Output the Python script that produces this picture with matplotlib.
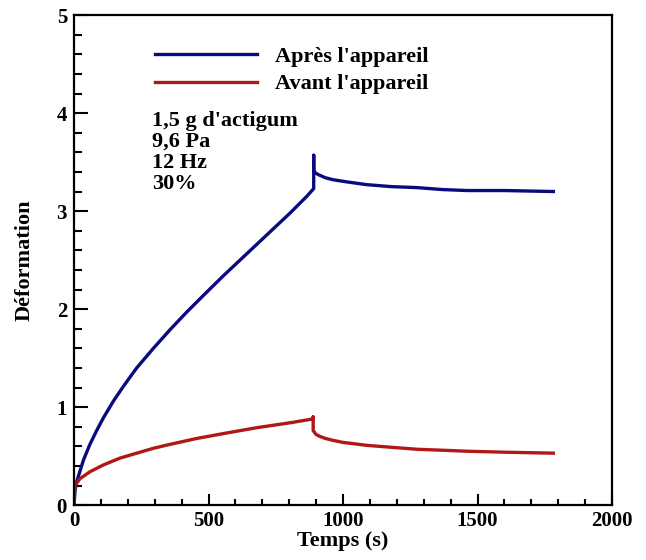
import numpy as np
import matplotlib.pyplot as plt
from matplotlib.ticker import MultipleLocator

t_apres = [0, 4, 10, 35, 59, 84, 109, 146, 183, 233, 295, 357, 419, 481, 555,
           617, 679, 741, 803, 865, 891,
           891, 891, 897, 910, 935, 964, 1010, 1088, 1180, 1274, 1370, 1460, 1600, 1782]
d_apres = [0.0, 0.16, 0.24, 0.46, 0.62, 0.76, 0.89, 1.06, 1.21, 1.40, 1.60, 1.79, 1.97, 2.14, 2.34,
           2.50, 2.66, 2.82, 2.98, 3.15, 3.23,
           3.57, 3.42, 3.39, 3.37, 3.34, 3.32, 3.30, 3.27, 3.25, 3.24, 3.22, 3.21, 3.21, 3.20]

t_avant = [0, 2, 4, 22, 59, 109, 171, 233, 295, 357, 456, 555, 679, 803, 889,
           889, 889, 900, 915, 935, 964, 1000, 1088, 1180, 1274, 1370, 1460, 1600, 1782]
d_avant = [0.0, 0.17, 0.20, 0.27, 0.34, 0.41, 0.48, 0.53, 0.58, 0.62, 0.68, 0.73, 0.79, 0.84, 0.88,
           0.90, 0.76, 0.72, 0.70, 0.68, 0.66, 0.64, 0.61, 0.59, 0.57, 0.56, 0.55, 0.54, 0.53]

info = ["1,5 g d'actigum", "9,6 Pa", "12 Hz", "30%"]

plt.rcParams['font.family'] = 'Liberation Serif'
plt.rcParams['font.weight'] = 'bold'

fig = plt.figure(figsize=(6.46, 5.6), dpi=100)
ax = fig.add_axes([0.1146, 0.098, 0.8328, 0.875])

ax.plot(t_apres, d_apres, color='#0a0a80', lw=2.4, label="Après l'appareil")
ax.plot(t_avant, d_avant, color='#b01818', lw=2.4, label="Avant l'appareil")

ax.set_xlim(0, 2000)
ax.set_ylim(0, 5)
ax.xaxis.set_major_locator(MultipleLocator(500))
ax.xaxis.set_minor_locator(MultipleLocator(100))
ax.yaxis.set_major_locator(MultipleLocator(1))
ax.yaxis.set_minor_locator(MultipleLocator(0.2))
ax.tick_params(which='both', direction='in', top=False, right=False, width=1.5, labelsize=15)
ax.tick_params(axis='x', which='major', length=8, pad=4)
ax.tick_params(axis='x', which='minor', length=4)
ax.tick_params(axis='y', which='major', length=10, pad=5)
ax.tick_params(axis='y', which='minor', length=6)
for s in ax.spines.values():
    s.set_linewidth(1.6)

ax.set_xlabel('Temps (s)', fontsize=16, fontweight='bold', labelpad=0)
ax.set_ylabel('Déformation', fontsize=16, fontweight='bold', labelpad=16)

ax.legend(loc='upper left', bbox_to_anchor=(0.15, 0.937), frameon=False,
          handlelength=4.6, handletextpad=0.8, labelspacing=0.33,
          borderaxespad=0, borderpad=0,
          prop={'family': 'Liberation Serif', 'weight': 'bold', 'size': 16})

ax.text(0.145, 0.805, "\n".join(info), transform=ax.transAxes, va='top', ha='left',
        fontsize=16, fontweight='bold', linespacing=1.08)

fig.savefig('out.png', dpi=100)
